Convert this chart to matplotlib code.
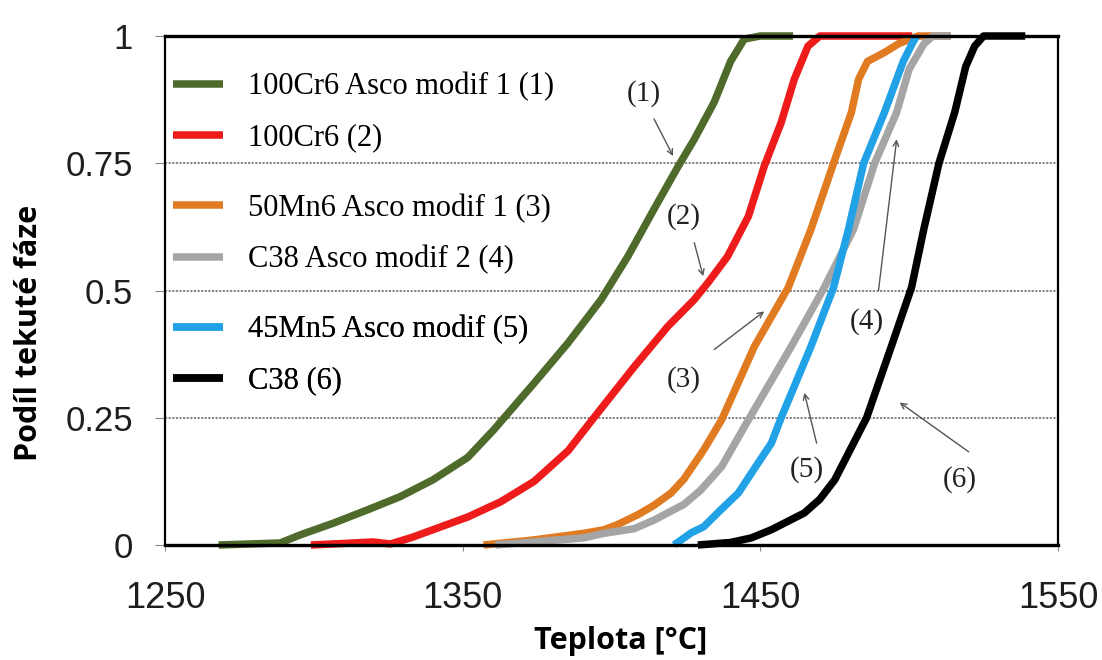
import numpy as np
import matplotlib.pyplot as plt

# liquid fraction vs temperature
t1 = [1268, 1288.7, 1295.5, 1306.6, 1318, 1329, 1340, 1351.7, 1360.4, 1374, 1385.4, 1396.5, 1405.5,
      1414.3, 1422.4, 1427.8, 1434.5, 1440, 1444.6, 1450, 1461]
f1 = [0, 0.004, 0.02, 0.043, 0.069, 0.095, 0.128, 0.172, 0.226, 0.318, 0.397, 0.482, 0.567,
      0.66, 0.744, 0.797, 0.87, 0.95, 0.994, 1.0, 1.0]

t2 = [1299, 1310, 1320, 1325.7, 1333, 1340, 1351.7, 1362.8, 1374, 1385.4, 1393, 1407.6, 1419,
      1427.8, 1432.5, 1439, 1446, 1451.3, 1457, 1461.4, 1466, 1470, 1475, 1501]
f2 = [0, 0.003, 0.006, 0.002, 0.015, 0.03, 0.055, 0.085, 0.125, 0.185, 0.242, 0.35, 0.43,
      0.482, 0.516, 0.567, 0.646, 0.744, 0.83, 0.915, 0.98, 1.0, 1.0, 1.0]

t3 = [1357, 1374, 1390.7, 1397.5, 1402, 1409, 1414, 1420, 1424.4, 1431, 1437, 1448, 1459.4,
      1467, 1474.6, 1480.6, 1483, 1486, 1491.8, 1496.5, 1503, 1514]
f3 = [0, 0.01, 0.023, 0.03, 0.04, 0.06, 0.077, 0.102, 0.13, 0.187, 0.246, 0.39, 0.506,
      0.62, 0.75, 0.85, 0.915, 0.95, 0.968, 0.985, 1.0, 1.0]

t4 = [1361, 1390.7, 1397.5, 1407.6, 1414.3, 1424.4, 1430, 1437, 1446, 1460.4, 1471.5, 1481.3,
      1488.4, 1495.8, 1500, 1505, 1508, 1514]
f4 = [0, 0.014, 0.023, 0.032, 0.049, 0.08, 0.108, 0.154, 0.246, 0.39, 0.506, 0.62,
      0.75, 0.85, 0.935, 0.985, 1.0, 1.0]

t5 = [1421, 1426.8, 1431, 1436, 1442.6, 1448, 1453.7, 1457, 1467, 1474.6, 1479.6, 1484.7,
      1491.7, 1498, 1501, 1502.5]
f5 = [0, 0.024, 0.036, 0.065, 0.102, 0.15, 0.2, 0.25, 0.39, 0.506, 0.62, 0.75,
      0.85, 0.95, 0.985, 1.0]

t6 = [1429, 1440, 1447, 1453.7, 1464.8, 1470, 1475, 1485.7, 1494, 1500.8, 1504.9, 1510,
      1515.3, 1519, 1522, 1525, 1539]
f6 = [0, 0.005, 0.014, 0.03, 0.063, 0.09, 0.128, 0.25, 0.39, 0.506, 0.62, 0.75,
      0.85, 0.94, 0.98, 1.0, 1.0]

names = ["100Cr6 Asco modif 1 (1)", "100Cr6 (2)", "50Mn6 Asco modif 1 (3)",
         "C38 Asco modif 2 (4)", "45Mn5 Asco modif (5)", "C38 (6)"]
colors = ["#4f6b2b", "#ee1b1b", "#e07b22", "#a5a5a5", "#22a2e6", "#000000"]

# callout labels: text position, arrow tail, arrow tip (temperature, fraction)
tags = ["(1)", "(2)", "(3)", "(4)", "(5)", "(6)"]
tag_pos = [(1411, 0.886), (1424.4, 0.646), (1424.4, 0.325), (1485.7, 0.439), (1465.5, 0.148), (1517, 0.128)]
tag_tail = [(1414.3, 0.837), (1427.8, 0.594), (1434.5, 0.384), (1489.7, 0.5), (1468.9, 0.2), (1520, 0.183)]
tag_tip = [(1420.7, 0.764), (1430.8, 0.528), (1451.3, 0.459), (1495.8, 0.797), (1464.8, 0.299), (1496.8, 0.28)]

xticks = [1250, 1350, 1450, 1550]
yticks = [0, 0.25, 0.5, 0.75, 1]
ylabels = ["0", "0.25", "0.5", "0.75", "1"]

fig = plt.figure(figsize=(11.02, 6.6), dpi=100)
ax = fig.add_axes([165/1102, 1-545/660, 893/1102, 509/660])

serif = ["Liberation Serif", "DejaVu Serif"]
lines = []
for t, f, c, n in zip([t1, t2, t3, t4, t5, t6], [f1, f2, f3, f4, f5, f6], colors, names):
    ln, = ax.plot(t, f, color=c, lw=5.4, label=n, clip_on=False,
                  solid_capstyle='butt', solid_joinstyle='round')
    lines.append(ln)

ax.set_xlim(1250, 1550)
ax.set_ylim(0, 1)
for y in [0.25, 0.5, 0.75]:
    ax.axhline(y, color="#7a7a7a", lw=1.3, ls=(0, (1.2, 0.8)), zorder=1)

ax.set_xticks(xticks)
ax.set_xticklabels([str(x) for x in xticks], fontsize=26, family="Liberation Sans", color="#1e1e1e")
ax.set_yticks(yticks)
ax.set_yticklabels(ylabels, fontsize=25, family="Liberation Sans", color="#1e1e1e")
ax.tick_params(axis='x', direction='out', length=4, color="#888888", pad=22)
ax.tick_params(axis='y', direction='out', length=7, color="#888888", pad=16)

for s in ["top", "bottom"]:
    ax.spines[s].set_linewidth(2.4)
for s in ["left", "right"]:
    ax.spines[s].set_linewidth(1.6)

ax.set_xlabel("Teplota [°C]", fontsize=22, fontweight="bold", family="Open Sans")
ax.xaxis.set_label_coords(0.51, -0.16)
ax.set_ylabel("Podíl tekuté fáze", fontsize=22, fontweight="bold", family="Open Sans")
ax.yaxis.set_label_coords(-0.135, 0.417)

# legend in three pairs, as in the original
for k, yc in enumerate([0.850, 0.611, 0.373]):
    lg = ax.legend(handles=lines[2*k:2*k+2], loc="center left", bbox_to_anchor=(0.009, yc),
                   frameon=False, borderpad=0, borderaxespad=0, handlelength=1.65,
                   handletextpad=0.8, labelspacing=0.72,
                   prop={"family": serif, "size": 22})
    ax.add_artist(lg)

for tag, p, a, b in zip(tags, tag_pos, tag_tail, tag_tip):
    ax.annotate("", xy=b, xytext=a,
                arrowprops=dict(arrowstyle="->", color="#555555", lw=1.0, shrinkA=0, shrinkB=0))
    ax.text(p[0], p[1], tag, fontsize=21, family=serif, ha="center", va="center", color="#222222")

fig.savefig("out.png", dpi=100)
